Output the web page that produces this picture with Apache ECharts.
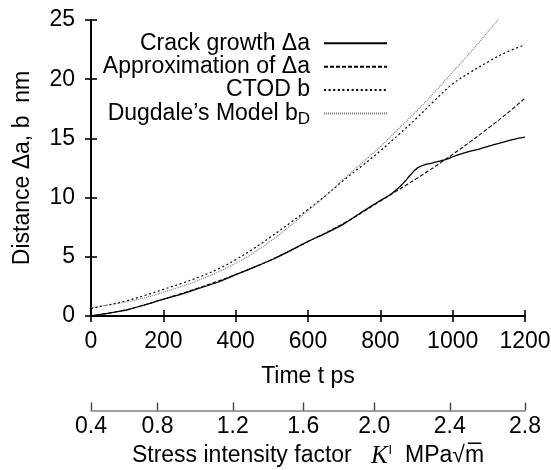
<!DOCTYPE html>
<html>
<head>
<meta charset="utf-8">
<script src="https://cdn.jsdelivr.net/npm/echarts@6/dist/echarts.min.js"></script>
<style>
html,body{margin:0;padding:0;background:#fff;}
#c{width:551px;height:470px;}
</style>
</head>
<body>
<div id="c"></div>
<script>
// ---- data ----
const crackT = [0,50,100,150,200,250,300,350,400,450,500,550,600,650,700,750,800,830,860,880,895,905,920,940,960,980,1000,1030,1060,1080,1100,1130,1160,1180,1200];
const crackV = [0,0.25,0.52,0.95,1.43,1.85,2.35,2.85,3.49,4.1,4.75,5.5,6.3,7.0,7.8,8.8,9.75,10.3,11.1,11.8,12.3,12.55,12.75,12.9,13.05,13.2,13.45,13.75,14.0,14.15,14.35,14.6,14.85,15.0,15.1];

const approxT = [0,100,200,300,400,500,600,700,800,850,900,950,1000,1050,1100,1150,1200];
const approxV = [0,0.55,1.42,2.4,3.5,4.78,6.28,7.85,9.7,10.65,11.6,12.6,13.65,14.75,15.9,17.1,18.4];

const ctodT = [0,50,100,150,200,250,300,350,400,450,500,550,600,650,700,750,800,850,900,950,1000,1050,1100,1150,1200];
const ctodV = [0.65,0.95,1.3,1.75,2.25,2.75,3.3,3.95,4.75,5.7,6.75,7.85,9.0,10.2,11.5,12.7,13.95,15.3,16.7,18.2,19.6,20.6,21.5,22.3,22.9];

const dugT = [0,50,100,150,200,250,300,350,400,450,500,550,600,650,700,750,800,850,900,950,1000,1050,1100,1150,1200];
const dugV = [0.7,0.95,1.2,1.55,2.0,2.5,3.05,3.7,4.45,5.35,6.4,7.6,8.9,10.2,11.6,12.95,14.3,15.8,17.3,18.9,20.6,22.3,24.1,25.9,27.8];

const timeTicks = [0,200,400,600,800,1000,1200];
const distTicks = [0,5,10,15,20,25];
const kLabels = ['0.4','0.8','1.2','1.6','2.0','2.4','2.8'];
const kTickTimes = [0,184,392,587,783,992,1200];

const seriesNames = ['Crack growth \u0394a','Approximation of \u0394a','CTOD b','Dugdale\u2019s Model b_D'];

// ---- chart ----
const FF = '"Liberation Sans", Arial, Helvetica, sans-serif';
const FS = 23;
const pair = (xs, ys) => xs.map((x, i) => [x, ys[i]]);

const chart = echarts.init(document.getElementById('c'), null, {renderer: 'canvas'});

const boxAxisLine = {show: true, lineStyle: {color: '#000', width: 1.8}};
const boxTick = {show: true, inside: true, length: 6, lineStyle: {color: '#000', width: 1.6}};

chart.setOption({
  animation: false,
  backgroundColor: '#fff',
  textStyle: {fontFamily: FF},
  grid: [
    {left: 91, right: 26, top: 20, bottom: 154, outerBoundsMode: 'none'},
    {left: 91, right: 26, top: 409.5, height: 1, outerBoundsMode: 'none'}
  ],
  xAxis: [
    {
      type: 'value', gridIndex: 0, position: 'bottom', min: 0, max: 1200, interval: 200,
      axisLine: boxAxisLine, axisTick: boxTick, splitLine: {show: false},
      axisLabel: {color: '#000', fontSize: FS, fontFamily: FF, margin: 14,
        customValues: timeTicks, formatter: function (v) { return String(v); }},
      name: 'Time t ps', nameLocation: 'middle', nameGap: 49,
      nameTextStyle: {color: '#000', fontSize: FS, fontFamily: FF}
    },
    {
      type: 'value', gridIndex: 0, position: 'top', min: 0, max: 1200, interval: 200,
      axisLine: boxAxisLine, axisTick: boxTick, splitLine: {show: false},
      axisLabel: {show: false}
    },
    {
      type: 'value', gridIndex: 1, position: 'bottom', min: 0, max: 1200,
      axisLine: {show: true, lineStyle: {color: '#808080', width: 1.5}},
      axisTick: {show: true, inside: true, length: 8, lineStyle: {color: '#444', width: 1.4},
        customValues: kTickTimes},
      splitLine: {show: false},
      axisLabel: {color: '#000', fontSize: FS, fontFamily: FF, margin: 5,
        customValues: kTickTimes,
        formatter: function (v) { const i = kTickTimes.indexOf(v); return i >= 0 ? kLabels[i] : ''; }},
      name: '{t|Stress intensity factor   }{k|K}{sup|I}{t|  MPa\u221A}{m|m\u0305}',
      nameLocation: 'middle', nameGap: 33,
      nameTextStyle: {
        color: '#000', fontSize: FS, fontFamily: FF,
        rich: {
          t: {fontSize: FS, fontFamily: FF, color: '#000'},
          k: {fontSize: 25, fontFamily: '"Liberation Serif", "Times New Roman", serif', fontStyle: 'italic', color: '#000'},
          sup: {fontSize: 13, fontFamily: FF, color: '#000', padding: [0, 0, 12, 1]},
          m: {fontSize: FS, fontFamily: FF, color: '#000'}
        }
      }
    }
  ],
  yAxis: [
    {
      type: 'value', gridIndex: 0, position: 'left', min: 0, max: 25, interval: 5,
      axisLine: boxAxisLine, axisTick: boxTick, splitLine: {show: false},
      axisLabel: {color: '#000', fontSize: FS, fontFamily: FF, margin: 16,
        customValues: distTicks},
      name: 'Distance \u0394a, b  nm', nameLocation: 'middle', nameGap: 57,
      nameTextStyle: {color: '#000', fontSize: FS, fontFamily: FF}
    },
    {
      type: 'value', gridIndex: 0, position: 'right', min: 0, max: 25, interval: 5,
      axisLine: boxAxisLine, axisTick: boxTick, splitLine: {show: false},
      axisLabel: {show: false}
    },
    {
      type: 'value', gridIndex: 1, min: 0, max: 1, show: false
    }
  ],
  legend: {
    orient: 'vertical', right: 163, top: 31.6, align: 'right', padding: 0,
    itemWidth: 63, itemHeight: 14, itemGap: 0,
    data: seriesNames,
    itemStyle: {color: 'rgba(0,0,0,0)', borderWidth: 0, opacity: 0},
    formatter: function (name) {
      if (name.indexOf('_D') >= 0) return '{n|' + name.replace('_D', '') + '}{sub|D}';
      return name;
    },
    textStyle: {
      color: '#000', fontSize: FS, fontFamily: FF, lineHeight: 23.4, padding: [0, 9, 0, 0],
      rich: {
        n: {fontSize: FS, fontFamily: FF, color: '#000', lineHeight: 23.4},
        sub: {fontSize: 17, fontFamily: FF, color: '#000', padding: [11, 0, 0, 0]}
      }
    }
  },
  series: [
    {
      name: seriesNames[0], type: 'line', xAxisIndex: 0, yAxisIndex: 0,
      data: pair(crackT, crackV), symbol: 'none', smooth: 0.2,
      lineStyle: {color: '#000', width: 1.3, type: 'solid'}
    },
    {
      name: seriesNames[1], type: 'line', xAxisIndex: 0, yAxisIndex: 0,
      data: pair(approxT, approxV), symbol: 'none', smooth: 0.4,
      lineStyle: {color: '#000', width: 1.1, type: [4, 2]}
    },
    {
      name: seriesNames[2], type: 'line', xAxisIndex: 0, yAxisIndex: 0,
      data: pair(ctodT, ctodV), symbol: 'none', smooth: 0.4,
      lineStyle: {color: '#000', width: 1.2, type: [2, 2.6]}
    },
    {
      name: seriesNames[3], type: 'line', xAxisIndex: 0, yAxisIndex: 0,
      data: pair(dugT, dugV), symbol: 'none', smooth: 0.4, clip: true,
      lineStyle: {color: '#777', width: 1.1, type: [1, 1]}
    }
  ]
});
</script>
</body>
</html>
